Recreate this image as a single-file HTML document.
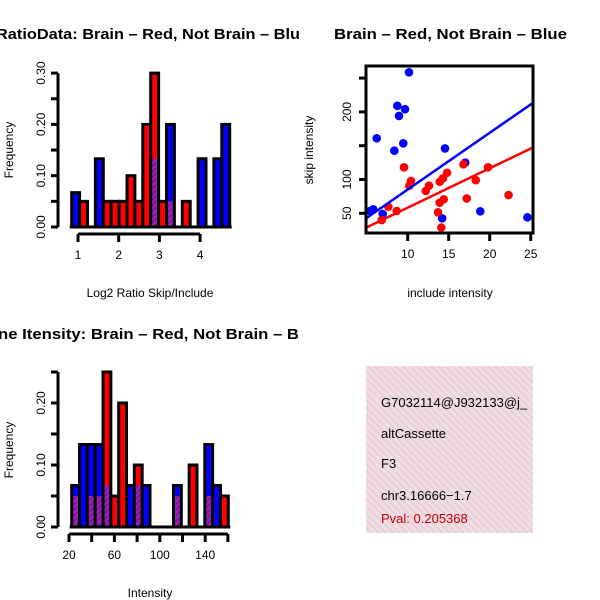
<!DOCTYPE html>
<html><head><meta charset="utf-8"><style>
html,body{margin:0;padding:0;background:#fff;}
svg{display:block;font-family:"Liberation Sans",sans-serif;}
</style></head><body>
<svg id="c" width="600" height="600" viewBox="0 0 600 600" xmlns="http://www.w3.org/2000/svg">
<defs>
<pattern id="purp" width="4" height="4" patternUnits="userSpaceOnUse" patternTransform="rotate(45)"><rect width="4" height="4" fill="#a020c0"/><rect width="2" height="4" fill="#7a1a9a"/></pattern>
<pattern id="pink" width="5" height="5" patternUnits="userSpaceOnUse" patternTransform="rotate(-45)"><rect width="5" height="5" fill="#f7d8f0"/><rect width="2" height="5" fill="#ddd8c8"/></pattern>
<clipPath id="clipL"><rect x="0" y="0" width="300" height="600"/></clipPath>
<clipPath id="clipBox"><rect x="366" y="366" width="167" height="167"/></clipPath>
</defs>
<g id="tl"></g>
<g id="bl"></g>
<g id="tr"></g>
<g>
<rect x="366" y="366" width="167" height="167" fill="url(#pink)"/>
<g clip-path="url(#clipBox)" font-size="13">
<text x="381" y="407">G7032114@J932133@j_</text>
<text x="381" y="438">altCassette</text>
<text x="381" y="468">F3</text>
<text x="381" y="500">chr3.16666−1.7</text>
<text x="381" y="523" fill="#c00000">Pval: 0.205368</text>
</g></g>
<g clip-path="url(#clipL)">
<text x="-4" y="39" font-size="15" font-weight="bold" textLength="304" lengthAdjust="spacingAndGlyphs">RatioData: Brain – Red, Not Brain – Blu</text>
<text x="-2" y="339" font-size="15" font-weight="bold" textLength="301" lengthAdjust="spacingAndGlyphs">ne Itensity: Brain – Red, Not Brain – B</text>
</g>
<text x="334" y="39" font-size="15" font-weight="bold" textLength="233" lengthAdjust="spacingAndGlyphs">Brain – Red, Not Brain – Blue</text>
</svg>
<script>
// Top-left histogram data (20 bins)
const ratioRed  = [0,0.05,0,0,0.05,0.05,0.05,0.1,0.05,0.2,0.3,0.05,0.05,0,0.05,0,0,0,0,0];
const ratioBlue = [0.067,0,0,0.133,0,0,0,0,0,0,0.133,0,0.2,0,0,0,0.133,0,0.133,0.2];
const ratioXTicks = [1,2,3,4];
const ratioYTicks = [0,0.05,0.1,0.15,0.2,0.25,0.3];
const ratioYLabels = ["0.00","","0.10","","0.20","","0.30"];
// Bottom-left histogram data (20 bins)
const intRed  = [0.05,0,0.05,0.05,0.25,0.05,0.2,0,0.1,0,0,0,0,0.05,0,0.1,0,0.05,0,0.05];
const intBlue = [0.067,0.133,0.133,0.133,0.067,0,0,0.067,0.067,0.067,0,0,0,0.067,0,0,0,0.133,0.067,0];
const intXTicks = [20,40,60,80,100,120,140,160];
const intXLabels = ["20","","60","","100","","140",""];
const intYTicks = [0,0.05,0.1,0.15,0.2,0.25];
const intYLabels = ["0.00","","0.10","","0.20",""];
// Scatter data
const blueX = [10.16,6.22,8.73,9.67,8.94,9.46,8.37,14.55,17.02,5.8,5.4,6.95,14.2,18.85,24.6];
const blueY = [258.6,161,209,204,194,153.5,142.6,146,124.9,55.9,53.4,49,42.6,53,44];
const redX = [9.55,10.4,10.2,12.2,12.6,13.9,14.3,14.8,16.8,19.8,18.3,17.2,22.3,14.4,13.9,13.7,14.1,8.66,7.63,6.83];
const redY = [118,97.8,90.8,83,90.8,96.7,101.8,110,122.5,118,99,72,77,70.7,65.7,51.5,29,53.4,59.8,40];
const blueFit = [1.3,8.39];
const redFit = [0,5.83];
const scXTicks = [10,15,20,25];
const scYTicks = [50,100,150,200,250];
const scYLabels = ["50","100","","200",""];

const NS="http://www.w3.org/2000/svg";
function mk(p,tag,a){const e=document.createElementNS(NS,tag);for(const k in a)e.setAttribute(k,a[k]);p.appendChild(e);return e;}

function hist(g,red,blue,x0,x1,yb,yPerUnit,nm){
  const n=red.length,w=(x1-x0)/n;
  const sy=v=>yb-v*yPerUnit;
  for(let i=0;i<n;i++){
    const r=red[i],b=blue[i],m=Math.max(r,b),o=Math.min(r,b);
    if(m<=0)continue;
    const x=x0+i*w;
    const top=mk(g,'rect',{x:x,y:sy(m),width:w,height:m*yPerUnit,fill:r>=b?'#ff0000':'#0000ff'});
    
    
    if(o>0){const ov=mk(g,'rect',{x:x,y:sy(o),width:w,height:o*yPerUnit,fill:'url(#purp)'});
      
      }
    mk(g,'rect',{x:x,y:sy(m),width:w,height:m*yPerUnit,fill:'none',stroke:'#000','stroke-width':3});
  }
  mk(g,'line',{x1:x0-2,x2:x1+2,y1:yb,y2:yb,stroke:'#000','stroke-width':3});
}
function yaxis(g,ticks,labels,x,sy,nm){
  mk(g,'line',{x1:x,x2:x,y1:sy(ticks[0]),y2:sy(ticks[ticks.length-1]),stroke:'#000','stroke-width':3});
  ticks.forEach((t,i)=>{const y=sy(t);mk(g,'line',{x1:x-7,x2:x,y1:y,y2:y,stroke:'#000','stroke-width':3});
    if(labels[i]){const tx=mk(g,'text',{x:0,y:0,'font-size':12,'text-anchor':'middle',transform:`translate(${x-13},${y}) rotate(-90)`});tx.textContent=labels[i];
    
    }});
}
function xaxis(g,ticks,labels,y,sx,nm){
  mk(g,'line',{x1:sx(ticks[0]),x2:sx(ticks[ticks.length-1]),y1:y,y2:y,stroke:'#000','stroke-width':3});
  ticks.forEach((t,i)=>{const x=sx(t);mk(g,'line',{x1:x,x2:x,y1:y,y2:y+8,stroke:'#000','stroke-width':3});
    if(labels[i]){const tx=mk(g,'text',{x:x,y:y+25,'font-size':12,'text-anchor':'middle'});tx.textContent=labels[i];
    
    }});
}
function label(g,txt,x,y,rot,nm){const t=mk(g,'text',{x:0,y:0,'font-size':12,'text-anchor':'middle',transform:`translate(${x},${y}) rotate(${rot})`});t.textContent=txt;
  
  }

// Top-left
(function(){const g=document.getElementById('tl');
  const yb=227,ypu=513;
  hist(g,ratioRed,ratioBlue,71.7,229.7,yb,ypu,'ratio');
  yaxis(g,ratioYTicks,ratioYLabels,58,v=>yb-v*ypu,'ratio-y');
  xaxis(g,ratioXTicks,ratioXTicks.map(String),234,v=>78+(v-1)*40.7,'ratio-x');
  label(g,'Log2 Ratio Skip/Include',150,297,0,'ratio-x-title');
  label(g,'Frequency',13,150,-90,'ratio-y-title');
})();
// Bottom-left
(function(){const g=document.getElementById('bl');
  const yb=527,ypu=620;
  hist(g,intRed,intBlue,71.7,228.3,yb,ypu,'intensity');
  yaxis(g,intYTicks,intYLabels,58,v=>yb-v*ypu,'intensity-y');
  xaxis(g,intXTicks,intXLabels,534,v=>69+(v-20)*1.135,'intensity-x');
  label(g,'Intensity',150,597,0,'intensity-x-title');
  label(g,'Frequency',13,450,-90,'intensity-y-title');
})();
// Scatter
(function(){const g=document.getElementById('tr');
  const sx=v=>407.7+(v-10)*8.2, sy=v=>213.3-(v-50)*0.676;
  const L=366,R=533,T=66,B=233;
  const cp=mk(document.querySelector('defs'),'clipPath',{id:'clipSc'});mk(cp,'rect',{x:L,y:T,width:R-L,height:B-T});
  const pg=mk(g,'g',{'clip-path':'url(#clipSc)'});
  blueX.forEach((x,i)=>{const c=mk(pg,'circle',{cx:sx(x),cy:sy(blueY[i]),r:4.3,fill:'#0000ff'});
    
    });
  redX.forEach((x,i)=>{const c=mk(pg,'circle',{cx:sx(x),cy:sy(redY[i]),r:4.3,fill:'#ff0000'});
    
    });
  const x0=4.9,x1=25.3;
  const bl=mk(pg,'line',{x1:sx(x0),y1:sy(blueFit[0]+blueFit[1]*x0),x2:sx(x1),y2:sy(blueFit[0]+blueFit[1]*x1),stroke:'#0000ff','stroke-width':2.5});
  
  
  const rl=mk(pg,'line',{x1:sx(x0),y1:sy(redFit[0]+redFit[1]*x0),x2:sx(x1),y2:sy(redFit[0]+redFit[1]*x1),stroke:'#ff0000','stroke-width':2.5});
  
  
  mk(g,'rect',{x:L,y:T,width:R-L,height:B-T,fill:'none',stroke:'#000','stroke-width':3});
  scYTicks.forEach((t,i)=>{const y=sy(t);mk(g,'line',{x1:L-7,x2:L,y1:y,y2:y,stroke:'#000','stroke-width':3});
    if(scYLabels[i]){const tx=mk(g,'text',{x:0,y:0,'font-size':12,'text-anchor':'middle',transform:`translate(${L-15},${y}) rotate(-90)`});tx.textContent=scYLabels[i];
    
    }});
  scXTicks.forEach(t=>{const x=sx(t);mk(g,'line',{x1:x,x2:x,y1:B,y2:B+8,stroke:'#000','stroke-width':3});
    const tx=mk(g,'text',{x:x,y:B+25,'font-size':12,'text-anchor':'middle'});tx.textContent=t;
    
    });
  label(g,'include intensity',450,297,0,'scatter-x-title');
  label(g,'skip intensity',313,150,-90,'scatter-y-title');
})();
</script>
</body></html>
